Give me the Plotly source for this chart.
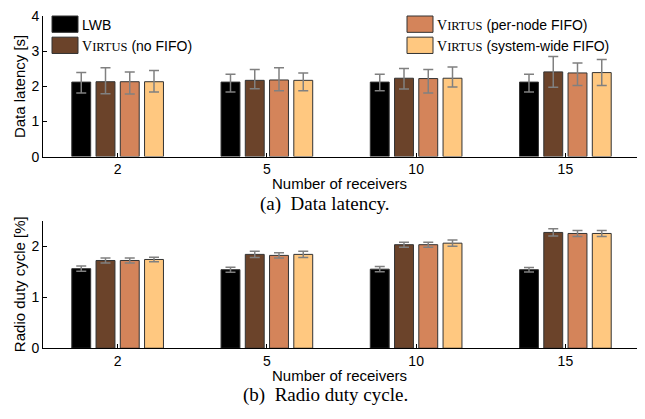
import plotly.graph_objects as go

# The page body has an 8px margin, so the figure is drawn 8px smaller and coordinates shifted.
OFF = 8
W, H = 645 - OFF, 419 - OFF

categories = ["2", "5", "10", "15"]
series_names = ["LWB", "VIRTUS (no FIFO)", "VIRTUS (per-node FIFO)", "VIRTUS (system-wide FIFO)"]
colors = ["#000000", "#6B432A", "#D4845A", "#FFC880"]

# (a) Data latency [s]
lat_lwb = [2.12, 2.12, 2.12, 2.12]
lat_lwb_up = [0.27, 0.22, 0.22, 0.22]
lat_lwb_dn = [0.31, 0.28, 0.25, 0.28]
lat_nofifo = [2.13, 2.17, 2.23, 2.41]
lat_nofifo_up = [0.40, 0.31, 0.28, 0.44]
lat_nofifo_dn = [0.34, 0.24, 0.31, 0.44]
lat_pernode = [2.13, 2.18, 2.22, 2.38]
lat_pernode_up = [0.28, 0.35, 0.26, 0.28]
lat_pernode_dn = [0.35, 0.31, 0.41, 0.36]
lat_syswide = [2.13, 2.17, 2.23, 2.39]
lat_syswide_up = [0.32, 0.21, 0.32, 0.37]
lat_syswide_dn = [0.29, 0.30, 0.25, 0.37]

# (b) Radio duty cycle [%]
dc_lwb = [1.56, 1.54, 1.55, 1.54]
dc_lwb_err = [0.05, 0.05, 0.05, 0.045]
dc_nofifo = [1.72, 1.84, 2.03, 2.27]
dc_nofifo_err = [0.05, 0.06, 0.05, 0.07]
dc_pernode = [1.72, 1.82, 2.03, 2.25]
dc_pernode_err = [0.05, 0.05, 0.05, 0.06]
dc_syswide = [1.74, 1.84, 2.06, 2.25]
dc_syswide_err = [0.045, 0.06, 0.06, 0.06]

lat_series = [
    (lat_lwb, lat_lwb_up, lat_lwb_dn),
    (lat_nofifo, lat_nofifo_up, lat_nofifo_dn),
    (lat_pernode, lat_pernode_up, lat_pernode_dn),
    (lat_syswide, lat_syswide_up, lat_syswide_dn),
]
dc_series = [
    (dc_lwb, dc_lwb_err),
    (dc_nofifo, dc_nofifo_err),
    (dc_pernode, dc_pernode_err),
    (dc_syswide, dc_syswide_err),
]

SANS = "Liberation Sans, Arial, sans-serif"
SERIF = "Liberation Serif, Times New Roman, serif"
ERR = dict(color="#808080", thickness=1.5, width=5)

fig = go.Figure()
for i, (vals, up, dn) in enumerate(lat_series):
    fig.add_trace(go.Bar(
        x=categories, y=vals, name=series_names[i], xaxis="x", yaxis="y",
        marker=dict(color=colors[i], line=dict(color="#333333", width=1)),
        error_y=dict(type="data", symmetric=False, array=up, arrayminus=dn, **ERR),
        showlegend=False,
    ))
for i, (vals, err) in enumerate(dc_series):
    fig.add_trace(go.Bar(
        x=categories, y=vals, name=series_names[i], xaxis="x2", yaxis="y2",
        marker=dict(color=colors[i], line=dict(color="#333333", width=1)),
        error_y=dict(type="data", array=err, **ERR),
        showlegend=False,
    ))

def px(x):
    return (x - OFF) / W

def py(y):
    return 1 - (y - OFF) / H

xdom = [px(43), px(640)]
axis_common = dict(showline=True, linecolor="black", linewidth=1, ticks="inside",
                   ticklen=4, tickcolor="black", showgrid=False, zeroline=False,
                   ticklabeloverflow="allow",
                   tickfont=dict(family=SANS, size=14, color="black"))

fig.update_layout(
    width=W, height=H,
    margin=dict(l=0, r=0, t=0, b=0),
    paper_bgcolor="white", plot_bgcolor="white",
    barmode="group", bargap=0.35, bargroupgap=0.22,
    xaxis=dict(domain=xdom, anchor="y", type="category", range=[-0.5, 3.5], **axis_common),
    yaxis=dict(domain=[py(154.3), min(1, py(6.7))], anchor="x", range=[0, 4], tickvals=[0, 1, 2, 3, 4], **axis_common),
    xaxis2=dict(domain=xdom, anchor="y2", type="category", range=[-0.5, 3.5], **axis_common),
    yaxis2=dict(domain=[py(353.7), py(221)], anchor="x2", range=[0, 2.5], tickvals=[0, 1, 2], **axis_common),
)

ann = []
def text(x, y, t, size, family=SANS, angle=0, xanchor="center"):
    ann.append(dict(x=px(x), y=py(y), xref="paper", yref="paper", text=t, showarrow=False,
                    font=dict(family=family, size=size, color="black"), textangle=angle,
                    xanchor=xanchor, yanchor="middle"))

text(339, 182, "Number of receivers", 15)
text(339, 382, "Number of receivers", 15)
text(19, 82, "Data latency [s]", 15, angle=-90)
text(19, 287, "Radio duty cycle [%]", 15, angle=-90)
text(325, 204, "(a)  Data latency.", 19, family=SERIF)
text(325, 402, "(b)  Radio duty cycle.", 19, family=SERIF)

def virtus(rest):
    return ("<span style='font-family:Liberation Serif'>V<span style='font-size:12.5px'>IRTUS</span></span>"
            + " " + rest)

legend_items = [
    (52, 8, 25, "LWB", colors[0]),
    (52, 30, 47, virtus("(no FIFO)"), colors[1]),
    (407, 8, 25, virtus("(per-node FIFO)"), colors[2]),
    (407, 30, 47, virtus("(system-wide FIFO)"), colors[3]),
]
shapes = []
for x0, y0, y1, label, c in legend_items:
    shapes.append(dict(type="rect", xref="paper", yref="paper", x0=px(x0), x1=px(x0 + 26),
                       y0=py(y1), y1=py(y0), fillcolor=c, line=dict(color="#333333", width=1)))
    ann.append(dict(x=px(x0 + 28), y=py((y0 + y1) / 2 + 0.5), xref="paper", yref="paper", text=label,
                    showarrow=False, font=dict(family=SANS, size=14, color="black"),
                    xanchor="left", yanchor="middle"))

fig.update_layout(annotations=ann, shapes=shapes)
fig.write_html("out.html")
